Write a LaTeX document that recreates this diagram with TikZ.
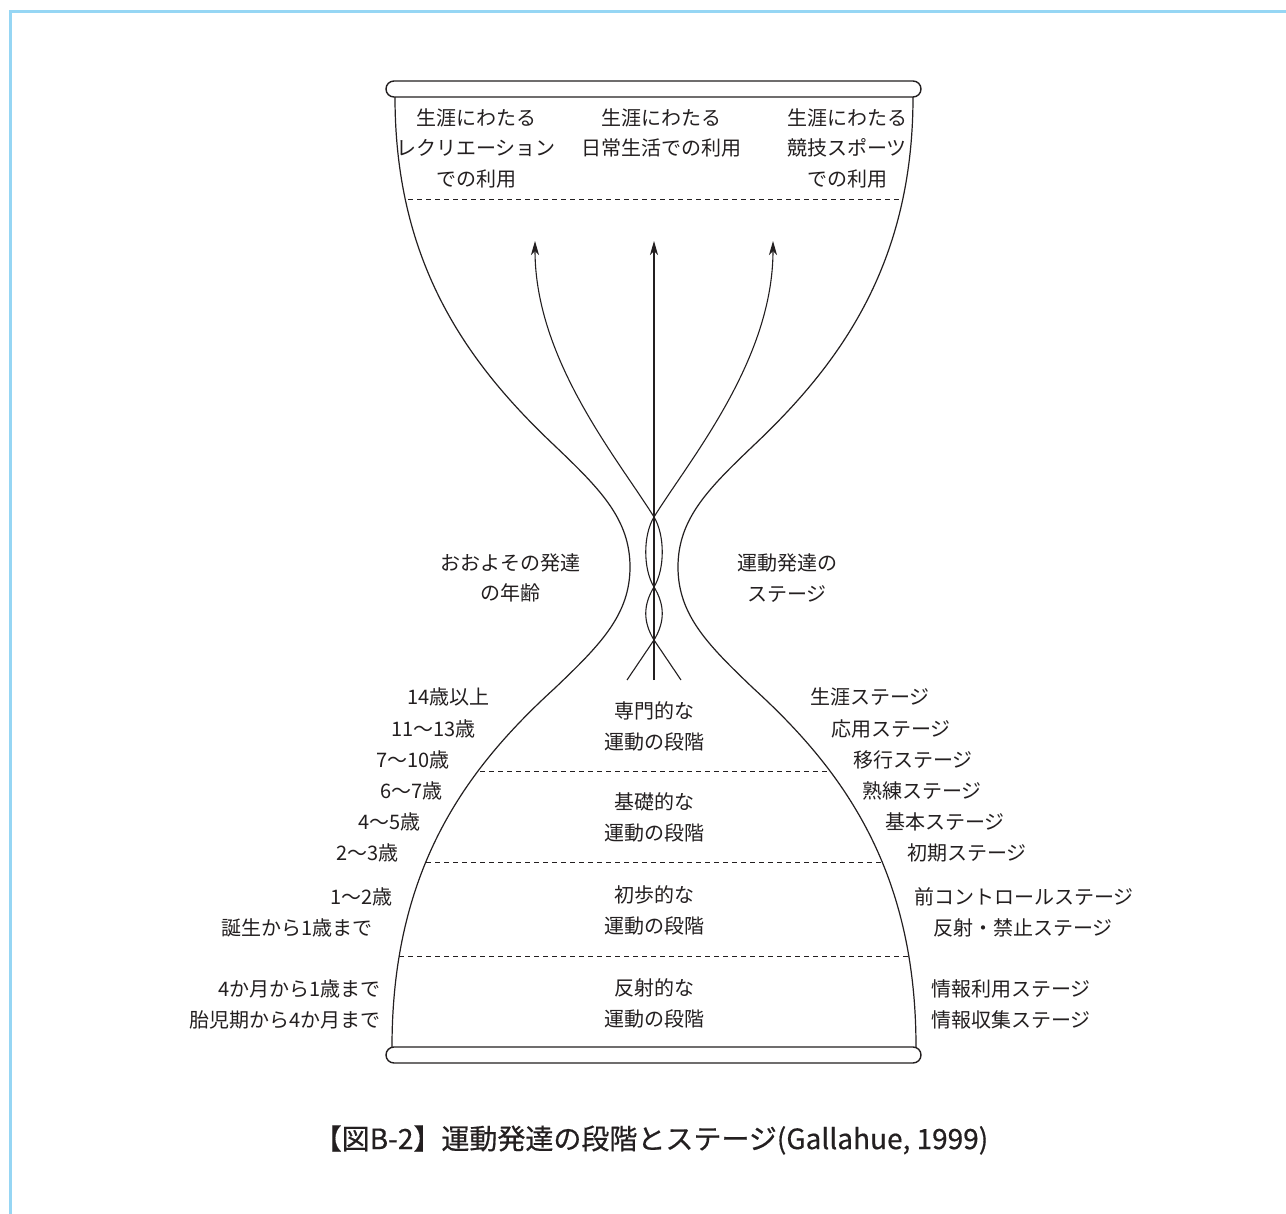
\documentclass[tikz,border=0pt]{standalone}
\usepackage{fontspec}
\setmainfont{Noto Sans CJK JP}
\newfontfamily\capfont[FakeBold=0.5]{Noto Sans CJK JP}
\usetikzlibrary{arrows.meta}
\definecolor{ink}{RGB}{35,31,32}
\definecolor{frameblue}{RGB}{150,214,244}
\tikzset{
  lbl/.style={inner sep=0pt, font=\fontsize{20}{30.5}\selectfont, text=ink, align=center},
  wall/.style={draw=ink, line width=1.2pt},
  rim/.style={draw=ink, line width=1.4pt, rounded corners=8pt},
  sep/.style={draw=ink, line width=0.9pt, dash pattern=on 5pt off 4pt},
  strand/.style={draw=ink, line width=1.1pt},
  arr/.style={strand, -{Stealth[length=14pt,width=8pt,inset=4pt]}},
  capt/.style={inner sep=0pt, font=\capfont\fontsize{28}{32}\selectfont, text=ink}
}
\begin{document}
\begin{tikzpicture}[x=1pt,y=-1pt]
\useasboundingbox (0,0) rectangle (1286,1214);
\fill[white] (0,0) rectangle (1286,1214);
% frame
\draw[frameblue, line width=2.5pt] (10.5,1214) -- (10.5,11.5) -- (1286,11.5);

% wall key points
\coordinate (LT) at (395,97);
\coordinate (LM) at (555,446);
\coordinate (LW) at (630,567);
\coordinate (LN) at (555,688);
\coordinate (LB) at (392,1047);
\coordinate (RT) at (913,97);
\coordinate (RM) at (753,446);
\coordinate (RW) at (678,567);
\coordinate (RN) at (753,688);
\coordinate (RB) at (916,1047);

% dashed separators clipped to interior
\begin{scope}
\clip (LT) .. controls (395,264) and (468,364) .. (LM)
      .. controls (600,489) and (630,519) .. (LW)
      .. controls (630,615) and (600,645) .. (LN)
      .. controls (465,770) and (392,870) .. (LB)
      -- (RB)
      .. controls (916,870) and (843,770) .. (RN)
      .. controls (708,645) and (678,615) .. (RW)
      .. controls (678,519) and (708,489) .. (RM)
      .. controls (840,364) and (913,264) .. (RT) -- cycle;
\draw[sep] (300,199) -- (1000,199);
\draw[sep] (300,771) -- (1000,771);
\draw[sep] (300,862) -- (1000,862);
\draw[sep] (300,956) -- (1000,956);
\end{scope}

% walls
\draw[wall] (LT) .. controls (395,264) and (468,364) .. (LM)
      .. controls (600,489) and (630,519) .. (LW)
      .. controls (630,615) and (600,645) .. (LN)
      .. controls (465,770) and (392,870) .. (LB);
\draw[wall] (RT) .. controls (913,264) and (840,364) .. (RM)
      .. controls (708,489) and (678,519) .. (RW)
      .. controls (678,615) and (708,645) .. (RN)
      .. controls (843,770) and (916,870) .. (RB);

% rims
\draw[rim, fill=white] (386,81) rectangle (921,97);
\draw[rim, fill=white] (386,1047) rectangle (921,1063);

% strands and arrows
\coordinate (A0) at (627,680);
\coordinate (B0) at (681,680);
\coordinate (C0) at (654,680);
\coordinate (X1) at (654,640);
\coordinate (X2) at (654,587);
\coordinate (X3) at (654,517);
\coordinate (TL) at (535,241);
\coordinate (TC) at (654,241);
\coordinate (TR) at (773,241);
\draw[arr] (C0) -- (TC);
\draw[arr] (A0) -- (X1) .. controls (665,622) and (665,605) .. (X2)
   .. controls (643,569) and (643,535) .. (X3)
   .. controls (690,459) and (773,360) .. (TR);
\draw[arr] (B0) -- (X1) .. controls (643,622) and (643,605) .. (X2)
   .. controls (665,569) and (665,535) .. (X3)
   .. controls (618,459) and (535,360) .. (TL);

% top texts
\node[lbl] (u1) at (476,148) {生涯にわたる\\レクリエーション\\での利用};
\node[lbl] (u2) at (661,133) {生涯にわたる\\日常生活での利用};
\node[lbl] (u3) at (847,148) {生涯にわたる\\競技スポーツ\\での利用};

% middle headings
\node[lbl] (hl) at (510,578) {おおよその発達\\の年齢};
\node[lbl] (hr) at (787,578) {運動発達の\\ステージ};

% stage names
\node[lbl] (s1) at (654,726.5) {専門的な\\運動の段階};
\node[lbl] (s2) at (654,817.5) {基礎的な\\運動の段階};
\node[lbl] (s3) at (654,910.5) {初歩的な\\運動の段階};
\node[lbl] (s4) at (654,1003.5) {反射的な\\運動の段階};

% ages
\node[lbl, anchor=east] (a1) at (490,697) {14歳以上};
\node[lbl, anchor=east] (a2) at (476,729) {11〜13歳};
\node[lbl, anchor=east] (a3) at (450,760) {7〜10歳};
\node[lbl, anchor=east] (a4) at (443,791) {6〜7歳};
\node[lbl, anchor=east] (a5) at (421,822) {4〜5歳};
\node[lbl, anchor=east] (a6) at (399,853) {2〜3歳};
\node[lbl, anchor=east] (a7) at (393,897) {1〜2歳};
\node[lbl, anchor=east] (a8) at (373,928) {誕生から1歳まで};
\node[lbl, anchor=east] (a9) at (381,989) {4か月から1歳まで};
\node[lbl, anchor=east] (a10) at (381,1020) {胎児期から4か月まで};

% stages
\node[lbl, anchor=west] (r1) at (810,697) {生涯ステージ};
\node[lbl, anchor=west] (r2) at (831,729) {応用ステージ};
\node[lbl, anchor=west] (r3) at (853,760) {移行ステージ};
\node[lbl, anchor=west] (r4) at (862,791) {熟練ステージ};
\node[lbl, anchor=west] (r5) at (885,822) {基本ステージ};
\node[lbl, anchor=west] (r6) at (907,853) {初期ステージ};
\node[lbl, anchor=west] (r7) at (914,897) {前コントロールステージ};
\node[lbl, anchor=west] (r8) at (933,928) {反射・禁止ステージ};
\node[lbl, anchor=west] (r9) at (931,989) {情報利用ステージ};
\node[lbl, anchor=west] (r10) at (931,1020) {情報収集ステージ};

% caption
\node[capt] (cap) at (651,1140) {【図B-2】運動発達の段階とステージ(Gallahue, 1999)};
\end{tikzpicture}
\end{document}
